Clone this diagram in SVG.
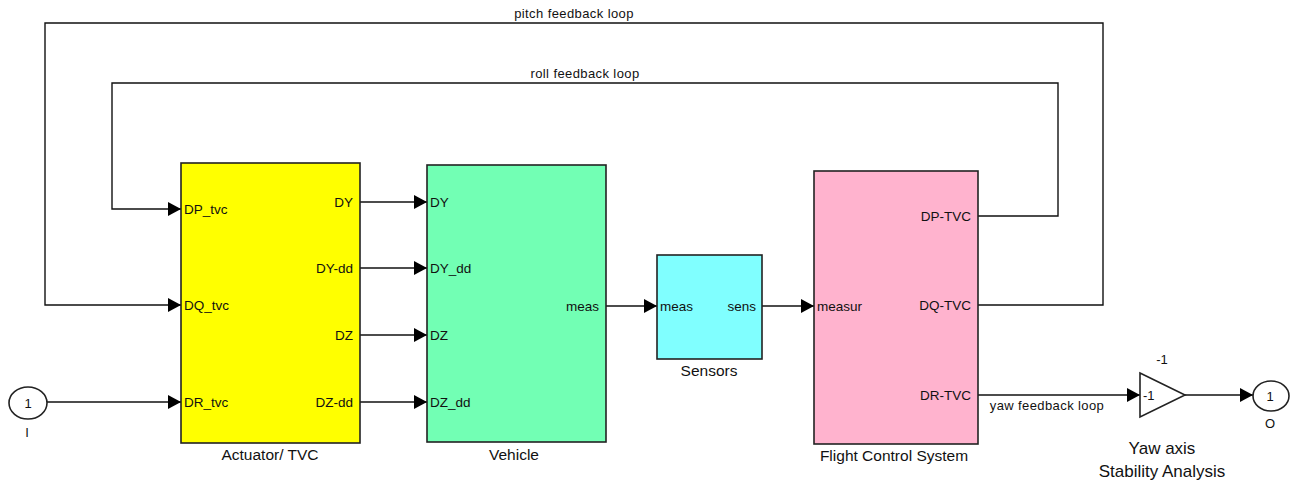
<svg xmlns="http://www.w3.org/2000/svg" width="1294" height="481" viewBox="0 0 1294 481">
<style>
.blk{stroke:#222;stroke-width:1.6}
.ln{fill:none;stroke:#111;stroke-width:1.4}
text{font-family:"Liberation Sans",Arial,sans-serif;fill:#111}
.p{font-size:13.5px}
.lbl{font-size:15.5px;text-anchor:middle}
.loop{font-size:13px;letter-spacing:0.4px;text-anchor:middle}
.big{font-size:17px;text-anchor:middle}
</style>
<defs>
<marker id="ar" markerUnits="userSpaceOnUse" markerWidth="14" markerHeight="14" refX="13" refY="7" orient="auto">
<path d="M0,0 L13,7 L0,14 Z" fill="#000"/>
</marker>
</defs>
<rect width="1294" height="481" fill="#fff"/>
<g id="connectors">
<polyline class="ln" points="978,216 1058,216 1058,83 112,83 112,209 181,209" marker-end="url(#ar)"/>
<polyline class="ln" points="978,305 1103,305 1103,23 45,23 45,305 181,305" marker-end="url(#ar)"/>
<line class="ln" x1="47" y1="402" x2="181" y2="402" marker-end="url(#ar)"/>
<line class="ln" x1="360" y1="202" x2="427" y2="202" marker-end="url(#ar)"/>
<line class="ln" x1="360" y1="268" x2="427" y2="268" marker-end="url(#ar)"/>
<line class="ln" x1="360" y1="335" x2="427" y2="335" marker-end="url(#ar)"/>
<line class="ln" x1="360" y1="402" x2="427" y2="402" marker-end="url(#ar)"/>
<line class="ln" x1="606" y1="306" x2="657" y2="306" marker-end="url(#ar)"/>
<line class="ln" x1="762" y1="306" x2="814" y2="306" marker-end="url(#ar)"/>
<line class="ln" x1="978" y1="395" x2="1140" y2="395" marker-end="url(#ar)"/>
<line class="ln" x1="1185" y1="395" x2="1253" y2="395" marker-end="url(#ar)"/>
<text class="loop" x="574" y="18">pitch feedback loop</text>
<text class="loop" x="585" y="78">roll feedback loop</text>
<text class="loop" x="1047" y="410">yaw feedback loop</text>
</g>
<g id="inport">
<ellipse class="blk" cx="28" cy="403" rx="19" ry="16" fill="#fff"/>
<text x="28" y="408" font-size="13" text-anchor="middle">1</text>
<text x="27" y="437" font-size="13" text-anchor="middle">I</text>
</g>
<g id="actuator">
<rect class="blk" x="181" y="163" width="179" height="280" fill="#FFFF00"/>
<text class="p" x="184" y="214">DP_tvc</text>
<text class="p" x="184" y="310">DQ_tvc</text>
<text class="p" x="184" y="407">DR_tvc</text>
<text class="p" x="353" y="207" text-anchor="end">DY</text>
<text class="p" x="353" y="273" text-anchor="end">DY-dd</text>
<text class="p" x="353" y="340" text-anchor="end">DZ</text>
<text class="p" x="353" y="407" text-anchor="end">DZ-dd</text>
<text class="lbl" x="270" y="460">Actuator/ TVC</text>
</g>
<g id="vehicle">
<rect class="blk" x="427" y="165" width="179" height="277" fill="#72FFB4"/>
<text class="p" x="430" y="207">DY</text>
<text class="p" x="430" y="273">DY_dd</text>
<text class="p" x="430" y="340">DZ</text>
<text class="p" x="430" y="407">DZ_dd</text>
<text class="p" x="599" y="311" text-anchor="end">meas</text>
<text class="lbl" x="514" y="460">Vehicle</text>
</g>
<g id="sensors">
<rect class="blk" x="657" y="255" width="105" height="104" fill="#80FFFF"/>
<text class="p" x="660" y="311">meas</text>
<text class="p" x="756" y="311" text-anchor="end">sens</text>
<text class="lbl" x="709" y="376">Sensors</text>
</g>
<g id="fcs">
<rect class="blk" x="814" y="171" width="164" height="273" fill="#FFB3CE"/>
<text class="p" x="817" y="311">measur</text>
<text class="p" x="971" y="221" text-anchor="end">DP-TVC</text>
<text class="p" x="971" y="310" text-anchor="end">DQ-TVC</text>
<text class="p" x="971" y="400" text-anchor="end">DR-TVC</text>
<text class="lbl" x="894" y="461">Flight Control System</text>
</g>
<g id="gain">
<polygon class="blk" points="1140,373 1185,395 1140,417" fill="#fff"/>
<text x="1143" y="400" font-size="13">-1</text>
<text x="1162" y="364" font-size="13" text-anchor="middle">-1</text>
<text class="big" x="1162" y="454">Yaw axis</text>
<text class="big" x="1162" y="477">Stability Analysis</text>
</g>
<g id="outport">
<ellipse class="blk" cx="1271" cy="396" rx="18" ry="15" fill="#fff"/>
<text x="1270" y="401" font-size="13" text-anchor="middle">1</text>
<text x="1270" y="428" font-size="13" text-anchor="middle">O</text>
</g>
</svg>
